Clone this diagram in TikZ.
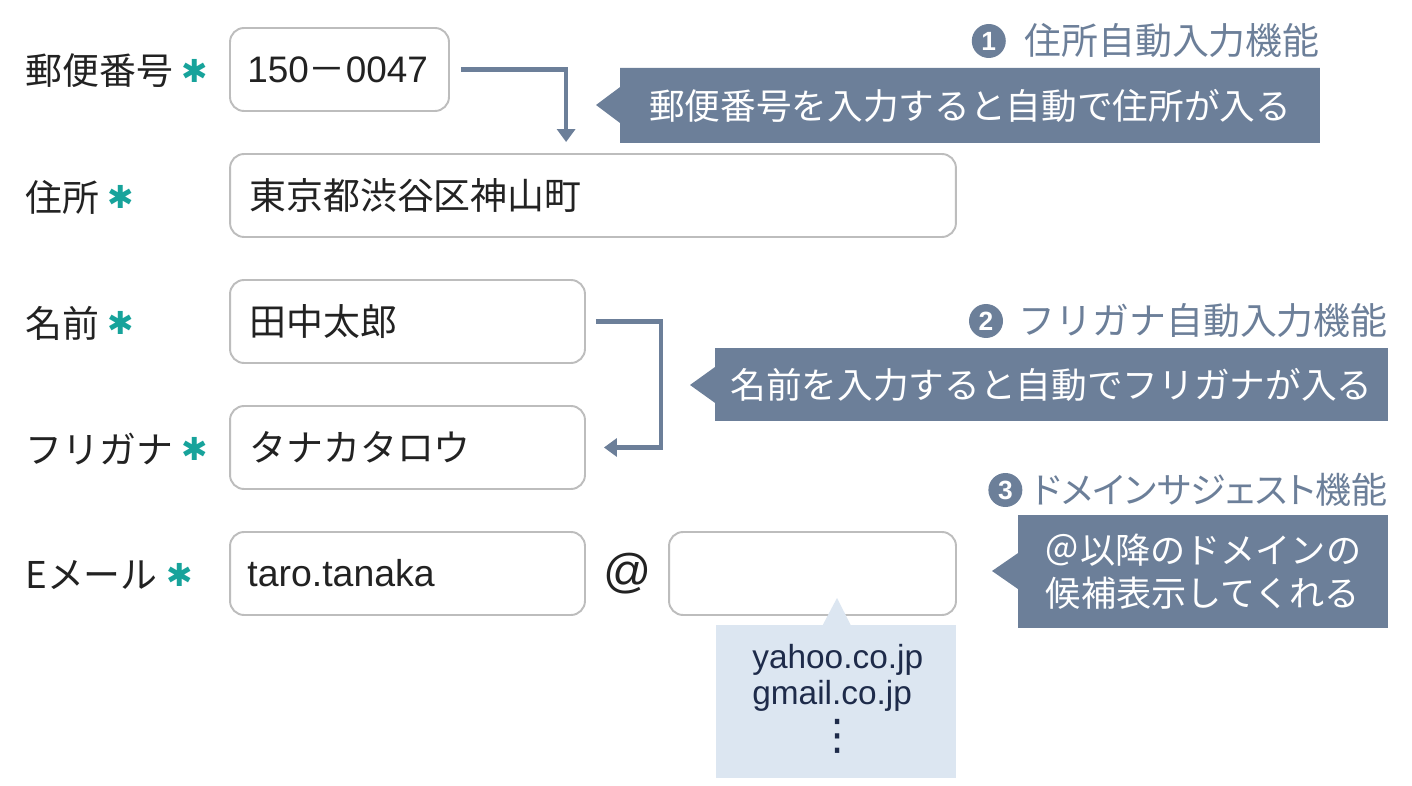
\documentclass[tikz,border=0pt]{standalone}
\usepackage{fontspec}
\setmainfont{Liberation Sans}
\newfontfamily\jpfont{Noto Sans CJK JP}
\newfontfamily\symfont{DejaVu Sans}
\usetikzlibrary{arrows.meta, shapes.callouts, positioning}

\definecolor{slate}{HTML}{6C7F99}
\definecolor{boxgray}{HTML}{BDBDBD}
\definecolor{reqteal}{HTML}{17A39B}
\definecolor{suggfill}{HTML}{DCE6F1}
\definecolor{suggink}{HTML}{1E2B4A}
\definecolor{ink}{HTML}{222222}

\begin{document}
\begin{tikzpicture}[x=0.02cm, y=-0.02cm,
    field/.style={draw=boxgray, line width=1.1pt, rounded corners=0.28cm, fill=white,
      minimum height=1.66cm, inner sep=0},
    fieldtext/.style={anchor=west, inner sep=0, text=ink, font=\jpfont\fontsize{21}{25}\selectfont},
    lbl/.style={anchor=west, inner sep=0, text=ink, font=\jpfont\fontsize{21}{25}\selectfont},
    req/.style={inner sep=0, text=reqteal, font=\symfont\bfseries\fontsize{18}{21}\selectfont},
    note/.style={rectangle callout, fill=slate, text=white, inner sep=0,
      callout pointer width=0.72cm, align=center,
      font=\jpfont\fontsize{20.3}{24.5}\selectfont},
    title/.style={anchor=east, inner sep=0, text=slate, font=\jpfont\fontsize{21}{25}\selectfont},
    num/.style={circle, fill=slate, text=white, minimum size=0.68cm, inner sep=0,
      font=\bfseries\fontsize{15}{18}\selectfont},
    link/.style={draw=slate, line width=2.3pt, -{Triangle[length=0.26cm, width=0.36cm]}},
    sugg/.style={rectangle callout, fill=suggfill, inner sep=0, callout pointer width=0.56cm},
    suggtext/.style={anchor=west, inner sep=0, text=suggink, font=\fontsize{19}{23}\selectfont}]
  \useasboundingbox (0,0) rectangle (1412,786);

  % form fields
  \node[field, minimum width=4.38cm] (zip) at (339.5,69.5) {};
  \node[field, minimum width=14.52cm] (addr) at (593,195.5) {};
  \node[field, minimum width=7.1cm] (name) at (407.5,321.5) {};
  \node[field, minimum width=7.1cm] (furi) at (407.5,447.5) {};
  \node[field, minimum width=7.1cm] (mail) at (407.5,573.5) {};
  \node[field, minimum width=5.74cm] (dom) at (812.5,573.5) {};

  \node[fieldtext, font=\fontsize{21}{25}\selectfont] at ([xshift=0.36cm]zip.west) {150{\jpfont －}0047};
  \node[fieldtext] at ([xshift=0.4cm]addr.west) {東京都渋谷区神山町};
  \node[fieldtext] at ([xshift=0.4cm]name.west) {田中太郎};
  \node[fieldtext] at ([xshift=0.4cm]furi.west) {タナカタロウ};
  \node[fieldtext, font=\fontsize{21.3}{25}\selectfont] at ([xshift=0.36cm]mail.west) {taro.tanaka};
  \node[inner sep=0, text=ink, font=\fontsize{27}{32}\selectfont] (at) at (628,573.5) {@};

  % labels
  \node[lbl] (lzip) at (25,71) {郵便番号};
  \node[req, right=0.16cm of lzip] {✱};
  \node[lbl] (laddr) at (25,197) {住所};
  \node[req, right=0.16cm of laddr] {✱};
  \node[lbl] (lname) at (25,323) {名前};
  \node[req, right=0.16cm of lname] {✱};
  \node[lbl] (lfuri) at (25,449) {フリガナ};
  \node[req, right=0.16cm of lfuri] {✱};
  \node[lbl] (lmail) at (25,575) {E{\jpfont メール}};
  \node[req, right=0.16cm of lmail] {✱};

  % arrows
  \draw[link] ([xshift=0.22cm]zip.east) -| ([shift={(337,-11)}]addr.north west);
  \draw[link] ([xshift=0.2cm]name.east) -- ++(65,0) |- ([xshift=0.36cm]furi.east);

  % feature notes
  \node[title] (t1) at (1320,41) {住所自動入力機能};
  \node[num, left=0.36cm of t1] {1};
  \node[note, minimum width=14cm, minimum height=1.5cm,
    callout absolute pointer={(596,105)}] (n1) at (970,105.5) {郵便番号を入力すると自動で住所が入る};

  \node[title] (t2) at (1388,321) {フリガナ自動入力機能};
  \node[num, left=0.3cm of t2] {2};
  \node[note, minimum width=13.46cm, minimum height=1.46cm,
    callout absolute pointer={(690,385)}] (n2) at (1051.5,384.5) {名前を入力すると自動でフリガナが入る};

  \node[title, font=\jpfont\addfontfeature{RawFeature=+palt}\fontsize{20.5}{24}\selectfont] (t3) at (1388,490) {ドメインサジェスト機能};
  \node[num, left=0.2cm of t3] {3};
  \node[note, minimum width=7.4cm, minimum height=2.26cm,
    font=\jpfont\fontsize{20}{24.5}\selectfont,
    callout absolute pointer={(992,571)}] (n3) at (1203,571.5) {＠以降のドメインの\\候補表示してくれる};

  % domain suggestions
  \node[sugg, minimum width=4.8cm, minimum height=3.06cm,
    callout absolute pointer={(837,598)}] (list) at (836,701.5) {};
  \node[suggtext] (s1) at (752,660) {yahoo.co.jp};
  \node[suggtext] (s2) at (752,696) {gmail.co.jp};
  \node[inner sep=0, text=suggink, font=\symfont\fontsize{24}{28}\selectfont] (s3) at (838,736) {⋮};
\end{tikzpicture}
\end{document}
